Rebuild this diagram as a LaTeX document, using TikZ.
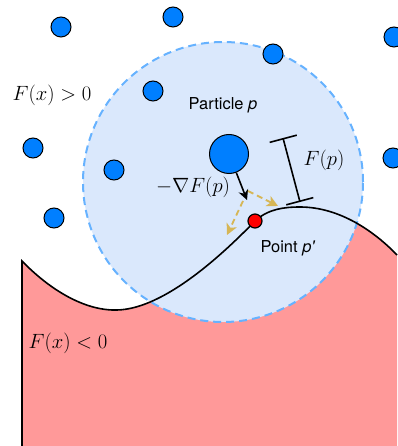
\documentclass[tikz,border=0pt]{standalone}
\usepackage{fontspec}
\newfontfamily\hv{TeX Gyre Heros}
\usetikzlibrary{arrows.meta}
\definecolor{dotblue}{HTML}{007FFF}
\definecolor{zonefill}{HTML}{DAE8FC}
\definecolor{zonedash}{HTML}{66B2FF}
\definecolor{negfill}{HTML}{FF9999}
\definecolor{gold}{HTML}{D6B656}
\tikzset{
  dot/.style={circle,draw=black,fill=dotblue,line width=1bp,minimum size=20bp,inner sep=0pt},
  mathlbl/.style={inner sep=0pt,font=\fontsize{22}{26}\selectfont},
  sanslbl/.style={inner sep=0pt,font=\hv\fontsize{16.5}{19}\selectfont},
  goldarrow/.style={draw=gold,line width=1.8bp,dash pattern=on 6bp off 4bp,-{Stealth[length=11bp,width=11bp,inset=3bp,fill=gold]}},
}
\begin{document}
\begin{tikzpicture}[x=1bp,y=-1bp]
\useasboundingbox (0,0) rectangle (397,446);
% negative region
\fill[negfill] (22,261) .. controls (50,290) and (85,311) .. (117,310)
  .. controls (165,309) and (225,252) .. (255,221)
  .. controls (268,209) and (284,207) .. (300,207)
  .. controls (340,207) and (375,232) .. (397,255)
  -- (397,446) -- (22,446) -- cycle;
% neighbourhood circle
\node[circle,draw=zonedash,fill=zonefill,line width=2bp,dash pattern=on 8bp off 5bp,minimum size=280bp,inner sep=0pt] (zone) at (223,182) {};
% surface curve
\draw[line width=1.6bp] (22,446) -- (22,261) .. controls (50,290) and (85,311) .. (117,310)
  .. controls (165,309) and (225,252) .. (255,221)
  .. controls (268,209) and (284,207) .. (300,207)
  .. controls (340,207) and (375,232) .. (397,255);
% particles
\node[dot] (d1) at (61,27) {};
\node[dot] (d2) at (173,17) {};
\node[dot] (d3) at (394,37) {};
\node[dot] (d4) at (153,91) {};
\node[dot] (d5) at (273,54) {};
\node[dot] (d6) at (33,148) {};
\node[dot] (d7) at (114,170) {};
\node[dot] (d8) at (393,158) {};
\node[dot] (d9) at (54,218) {};
\node[dot,minimum size=39bp] (P) at (229,154) {};
% gradient arrow
\coordinate (gtip) at (247,200);
\draw[line width=1.6bp,-{Stealth[length=10bp,width=10bp]}] (P) -- (gtip);
% gold dashed arrows
\coordinate (g1s) at (248,191);
\coordinate (g1e) at (278,206);
\coordinate (g2s) at (243,201);
\coordinate (g2e) at (227,235);
\draw[goldarrow] (g1s) -- (g1e);
\draw[goldarrow] (g2s) -- (g2e);
% projected point
\node[circle,draw=black,fill=red,line width=1.2bp,minimum size=14bp,inner sep=0pt] (pp) at (255,221) {};
% distance bracket
\coordinate (bt) at (283,138);
\coordinate (bb) at (300,202);
\draw[line width=1.6bp,{Bar[width=28bp]}-{Bar[width=28bp]}] (bt) -- (bb);
% labels
\node[sanslbl] (lpart) at (223,105) {Particle \textit{p}};
\node[sanslbl] (lpoint) at (288,248) {Point \textit{p'}};
\node[mathlbl] (lfp) at (324,160) {$F(p)$};
\node[mathlbl] (lgrad) at (193,187) {$-\nabla F(p)$};
\node[mathlbl] (lpos) at (52,95) {$F(x) > 0$};
\node[mathlbl] (lneg) at (68,343) {$F(x) < 0$};
\end{tikzpicture}
\end{document}
